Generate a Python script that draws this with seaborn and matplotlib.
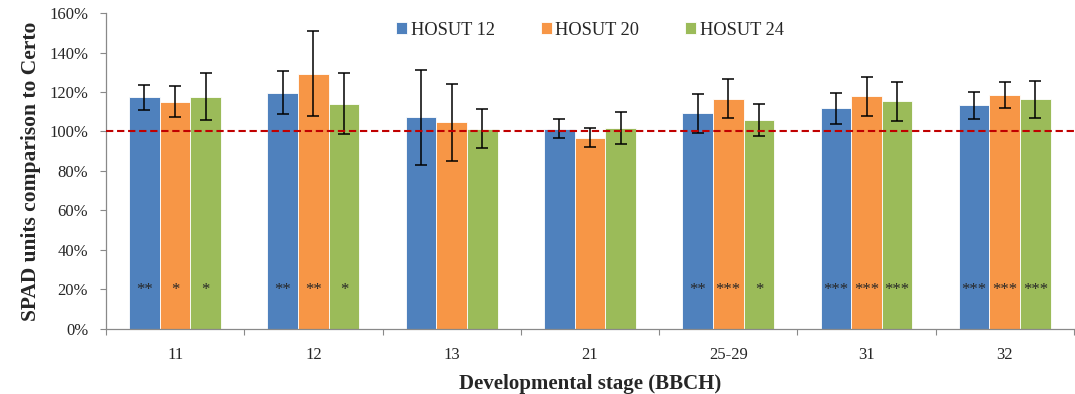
import matplotlib
matplotlib.use("Agg")
import matplotlib.pyplot as plt
import seaborn as sns
import pandas as pd
import numpy as np
from matplotlib.ticker import FuncFormatter, FixedLocator

# ---- data ----
stages = ["11", "12", "13", "21", "25-29", "31", "32"]
series = ["HOSUT 12", "HOSUT 20", "HOSUT 24"]
hosut12 = [117.3, 119.7, 107.2, 101.4, 109.2, 111.7, 113.3]
hosut20 = [115.1, 129.3, 104.6, 96.9, 116.6, 117.8, 118.6]
hosut24 = [117.6, 114.1, 101.4, 101.9, 105.8, 115.3, 116.3]
err12 = [6.3, 11.0, 24.0, 4.7, 10.0, 7.9, 6.9]
err20 = [7.8, 21.5, 19.6, 4.9, 9.8, 10.0, 6.6]
err24 = [12.0, 15.6, 10.0, 8.0, 8.0, 9.8, 9.5]
stars12 = ["**", "**", "", "", "**", "***", "***"]
stars20 = ["*", "**", "", "", "***", "***", "***"]
stars24 = ["*", "*", "", "", "*", "***", "***"]
colors = ["#4F81BD", "#F79646", "#9BBB59"]

values = [hosut12, hosut20, hosut24]
errors = [err12, err20, err24]
stars = [stars12, stars20, stars24]

rows = []
for s, vals in zip(series, values):
    for st, v in zip(stages, vals):
        rows.append({"stage": st, "series": s, "value": v})
df = pd.DataFrame(rows)

sns.set_style("white")
plt.rcParams["font.family"] = ["Liberation Serif", "DejaVu Serif"]

fig = plt.figure(figsize=(10.75, 3.94), dpi=100)
ax = fig.add_axes([0.0986, 0.165, 0.9004, 0.802])

sns.barplot(data=df, x="stage", y="value", hue="series", order=stages,
            hue_order=series, palette=colors, errorbar=None, width=0.665,
            edgecolor="white", linewidth=0.6, saturation=1, ax=ax)

for cont, err, st in zip(ax.containers, errors, stars):
    xs = [p.get_x() + p.get_width() / 2 for p in cont.patches]
    hs = [p.get_height() for p in cont.patches]
    ax.errorbar(xs, hs, yerr=err, fmt="none", ecolor="black",
                elinewidth=1.1, capsize=4.3, capthick=1.1, zorder=5)
    for x, label in zip(xs, st):
        if label:
            ax.text(x, 17.6, label, ha="center", va="baseline",
                    fontsize=12, color="#262626", zorder=6)

ax.axhline(100, color="#C00000", lw=1.5, dashes=(3.5, 1.8), zorder=6)

ax.set_xlim(-0.5, 6.5)
ax.set_ylim(0, 160)
ax.set_yticks(np.arange(0, 161, 20))
ax.yaxis.set_major_formatter(FuncFormatter(lambda v, p: f"{int(v)}%"))
ax.tick_params(axis="y", which="major", direction="out", length=6 * 0.72,
               width=0.8, color="#898989", labelsize=12, pad=8.5, left=True)
ax.xaxis.set_minor_locator(FixedLocator(np.arange(-0.5, 7, 1)))
ax.tick_params(axis="x", which="minor", direction="out", length=4.3,
               width=0.8, color="#898989", bottom=True)
ax.tick_params(axis="x", which="major", length=0, labelsize=12, pad=13)

for side in ["top", "right"]:
    ax.spines[side].set_visible(False)
for side in ["left", "bottom"]:
    ax.spines[side].set_color("#898989")
    ax.spines[side].set_linewidth(0.9)

ax.set_xlabel("Developmental stage (BBCH)", fontsize=15, fontweight="bold",
              labelpad=8)
ax.set_ylabel("SPAD units comparison to Certo", fontsize=15.5,
              fontweight="bold", labelpad=6)

leg = ax.legend(loc="center", bbox_to_anchor=(0.5, 0.946), ncol=3,
                frameon=False, fontsize=13.2, handlelength=0.6,
                handleheight=0.6, handletextpad=0.2, columnspacing=2.5)

fig.savefig("out.png", dpi=100)
